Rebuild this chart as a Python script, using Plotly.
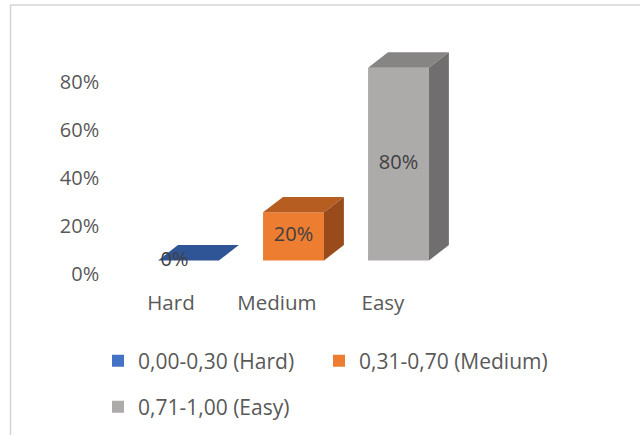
import plotly.graph_objects as go

# ---- data ----
categories = ["Hard", "Medium", "Easy"]
values = [0, 20, 80]
series_names = ["0,00-0,30 (Hard)", "0,31-0,70 (Medium)", "0,71-1,00 (Easy)"]
y_ticks = [0, 20, 40, 60, 80]
y_tick_labels = ["0%", "20%", "40%", "60%", "80%"]

# ---- styles ----
front_colors = ["#4472C4", "#ED7D31", "#ADAAAA"]
top_colors = ["#2F5597", "#B65D22", "#878484"]
side_colors = ["#25447A", "#9A4B1C", "#706E6E"]
legend_ids = ["legend", "legend3", "legend2"]
FONT = "Open Sans"
TXT = "#595959"
W, H = 640, 435
bar_w = 0.58      # front face width (category units)
depth_dx = 0.19   # 3D depth, x (category units)
depth_dy = 6.4    # 3D depth, y (value units)

fig = go.Figure()

for i, (v, name) in enumerate(zip(values, series_names)):
    fig.add_trace(go.Bar(
        x=[i], y=[v], width=bar_w, name=name,
        marker=dict(color=front_colors[i], line=dict(width=0)),
        legend=legend_ids[i],
        hoverinfo="skip",
    ))

for i, v in enumerate(values):
    xl, xr = i - bar_w / 2, i + bar_w / 2
    # top face
    fig.add_trace(go.Scatter(
        x=[xl, xl + depth_dx, xr + depth_dx, xr, xl],
        y=[v, v + depth_dy, v + depth_dy, v, v],
        fill="toself", fillcolor=top_colors[i], mode="lines",
        line=dict(width=0, color=top_colors[i]), showlegend=False, hoverinfo="skip",
    ))
    if v > 0:
        # right side face
        fig.add_trace(go.Scatter(
            x=[xr, xr + depth_dx, xr + depth_dx, xr, xr],
            y=[0, depth_dy, v + depth_dy, v, 0],
            fill="toself", fillcolor=side_colors[i], mode="lines",
            line=dict(width=0, color=side_colors[i]), showlegend=False, hoverinfo="skip",
        ))

# data labels
fig.add_trace(go.Scatter(
    x=list(range(len(values))), y=[v / 2 for v in values],
    text=[f"{v}%" for v in values], mode="text",
    textposition=["middle left" if v == 0 else "middle center" for v in values],
    textfont=dict(family=FONT, size=20, color="#404040"),
    showlegend=False, hoverinfo="skip",
))

# axis-label carrier (category labels + percent ticks)
fig.add_trace(go.Scatter(
    x=categories, y=[0] * len(categories), xaxis="x2", yaxis="y2",
    mode="markers", marker=dict(opacity=0), showlegend=False, hoverinfo="skip",
))

leg_common = dict(orientation="h", xanchor="left", yanchor="middle",
                  bgcolor="rgba(0,0,0,0)", font=dict(family=FONT, size=21, color=TXT))

fig.update_layout(
    width=W, height=H,
    margin=dict(l=0, r=0, t=0, b=0),
    paper_bgcolor="white", plot_bgcolor="white",
    font=dict(family=FONT, size=20, color=TXT),
    barmode="overlay",
    xaxis=dict(range=[-1.795, 4.30], visible=False, fixedrange=True),
    yaxis=dict(range=[-72.4, 108.09], visible=False, fixedrange=True),
    xaxis2=dict(overlaying="x", anchor="free", position=0.337, type="category",
                range=[-1.613, 4.425], showgrid=False, zeroline=False, showline=False,
                ticks="", tickfont=dict(family=FONT, size=20.5, color=TXT)),
    yaxis2=dict(overlaying="y", anchor="free", position=0.155, side="left",
                range=[-67.08, 114.17], tickmode="array", tickvals=y_ticks, ticktext=y_tick_labels,
                showgrid=False, zeroline=False, showline=False, ticks="",
                tickfont=dict(family=FONT, size=20, color=TXT)),
    showlegend=True,
    legend=dict(x=98 / W, y=1 - 361 / H, **leg_common),
    legend3=dict(x=319 / W, y=1 - 361 / H, **leg_common),
    legend2=dict(x=98 / W, y=1 - 407 / H, **leg_common),
    shapes=[
        dict(type="line", xref="paper", yref="paper", x0=10 / W, x1=1, y0=1 - 5 / H, y1=1 - 5 / H,
             line=dict(color="#D4D4D4", width=1.5)),
        dict(type="line", xref="paper", yref="paper", x0=10.5 / W, x1=10.5 / W, y0=0, y1=1 - 5 / H,
             line=dict(color="#D4D4D4", width=1.5)),
    ],
)

fig.write_html("out.html")
